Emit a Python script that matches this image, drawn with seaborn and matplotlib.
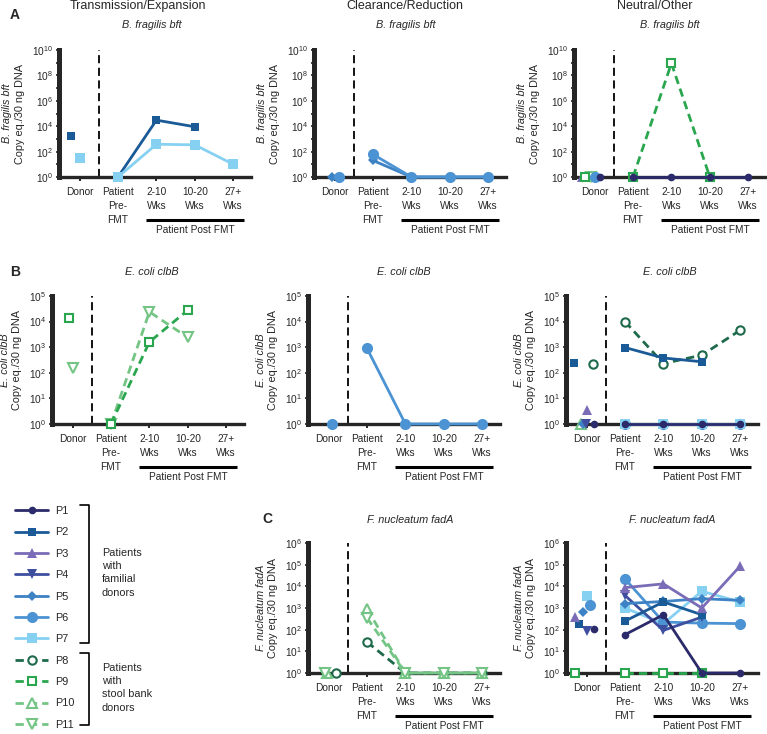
import numpy as np
import seaborn as sns
import matplotlib.pyplot as plt
from matplotlib import transforms
from matplotlib.lines import Line2D
from matplotlib.ticker import FixedLocator, FuncFormatter, NullLocator

sns.set_style("ticks")
plt.rcParams["font.family"] = ["Liberation Sans", "DejaVu Sans"]
plt.rcParams["mathtext.default"] = "regular"

TIMEPOINTS = ["Donor", "Patient\nPre-\nFMT", "2-10\nWks", "10-20\nWks", "27+\nWks"]

# copy eq./30 ng DNA: [donor, pre-FMT, 2-10 wks, 10-20 wks, 27+ wks], None = not measured/shown
BFT_TRANSMISSION = {
    "P2": [1600, 1, 3.0e4, 9.0e3, None],
    "P7": [30, 1, 380, 340, 10],
}
BFT_CLEARANCE = {
    "P5": [1, 20, 1, 1, 1],
    "P6": [1, 60, 1, 1, 1],
}
BFT_NEUTRAL = {
    "P3": [1, None, None, None, None],
    "P11": [1, None, None, None, None],
    "P9": [1, 1, 8.9e8, 1, None],
    "P6": [1, None, None, None, None],
    "P1": [1, 1, 1, 1, 1],
}
CLBB_TRANSMISSION = {
    "P11": [150, 1, 2.4e4, 2.4e3, None],
    "P9": [1.4e4, 1, 1.6e3, 2.8e4, None],
}
CLBB_CLEARANCE = {
    "P6": [1, 900, 1, 1, 1],
}
CLBB_NEUTRAL = {
    "P10": [1, None, None, None, None],
    "P5": [1, None, None, None, None],
    "P4": [1, None, None, None, None],
    "P3": [3.5, None, None, None, None],
    "P6": [None, 1, 1, 1, 1],
    "P7": [None, 1, 1, 1, 1],
    "P8": [220, 1.0e4, 230, 490, 4600],
    "P2": [240, 970, 380, 270, None],
    "P1": [1, 1, 1, 1, 1],
}
FADA_CLEARANCE = {
    "P8": [1, 27, 1, 1, 1],
    "P10": [1, 900, 1, 1, 1],
    "P11": [1, 350, 1, 1, 1],
}
FADA_NEUTRAL = {
    "P9": [1, 1, 1, 1, None],
    "P7": [3600, 1000, 190, 5900, 1900],
    "P6": [1400, 2.2e4, 225, 200, 190],
    "P4": [84, 3800, 93, 380, None],
    "P5": [650, 1600, 2000, 2700, 2250],
    "P2": [190, 250, 1900, 490, None],
    "P3": [380, 8700, 1.3e4, 1000, 8.7e4],
    "P1": [110, 59, 490, 1, 1],
}

# horizontal spread of the donor points inside the Donor column
BFT_TRANSMISSION_DX = {"P2": -0.22, "P7": 0.0}
BFT_CLEARANCE_DX = {"P5": -0.07, "P6": 0.12}
BFT_NEUTRAL_DX = {"P3": -0.33, "P9": -0.24, "P11": -0.1, "P6": 0.02, "P1": 0.15}
CLBB_TRANSMISSION_DX = {"P9": -0.1, "P11": 0.0}
CLBB_CLEARANCE_DX = {"P6": 0.1}
CLBB_NEUTRAL_DX = {"P2": -0.33, "P10": -0.14, "P5": -0.1, "P4": -0.02, "P3": 0.0,
                   "P8": 0.17, "P1": 0.2}
FADA_CLEARANCE_DX = {"P11": -0.1, "P10": -0.05, "P8": 0.2}
FADA_NEUTRAL_DX = {"P9": -0.3, "P3": -0.3, "P2": -0.2, "P5": -0.1, "P4": 0.0,
                   "P7": 0.0, "P6": 0.1, "P1": 0.2}

STYLE = {
    "P1": dict(color="#2b2b6b", marker="o", ms=5.5, hollow=False),
    "P2": dict(color="#1a5a96", marker="s", ms=6.0, hollow=False),
    "P3": dict(color="#7a6cb7", marker="^", ms=6.5, hollow=False),
    "P4": dict(color="#3e4f9f", marker="v", ms=6.5, hollow=False),
    "P5": dict(color="#3d82c4", marker="D", ms=5.0, hollow=False),
    "P6": dict(color="#4b93d3", marker="o", ms=8.0, hollow=False),
    "P7": dict(color="#86d1f2", marker="s", ms=7.0, hollow=False),
    "P8": dict(color="#1e6a4b", marker="o", ms=6.0, hollow=True),
    "P9": dict(color="#2aa64f", marker="s", ms=6.0, hollow=True),
    "P10": dict(color="#74c585", marker="^", ms=6.5, hollow=True),
    "P11": dict(color="#74c585", marker="v", ms=6.5, hollow=True),
}

W, H = 767, 734
fig = plt.figure(figsize=(W / 100, H / 100), dpi=100)

ov = fig.add_axes([0, 0, 1, 1], zorder=-1)
ov.set_xlim(0, W)
ov.set_ylim(H, 0)
ov.axis("off")


def line_kws(pid):
    st = STYLE[pid]
    return dict(
        color=st["color"], marker=st["marker"], markersize=st["ms"],
        markerfacecolor="white" if st["hollow"] else st["color"],
        markeredgecolor=st["color"],
        markeredgewidth=1.5 if st["hollow"] else 0.0,
        linewidth=2.0, linestyle=(0, (3, 1.8)) if st["hollow"] else "-",
    )


def draw_panel(left, top, bottom, values, donor_dx, top_exp, step, gene, yoff):
    ax = fig.add_axes([left / W, 1 - bottom / H, 192 / W, (bottom - top) / H])
    ax.set_yscale("log")
    ax.axvline(0.5, color="k", lw=1.3, ls=(0, (4.5, 2.5)), zorder=1)

    for pid, vals in values.items():
        kws = line_kws(pid)
        if vals[0] is not None:
            sns.lineplot(x=[donor_dx.get(pid, 0.0)], y=[vals[0]], ax=ax,
                         clip_on=False, zorder=3, **kws)
        post = [(i, v) for i, v in enumerate(vals) if i > 0 and v is not None]
        if post:
            xs, ys = zip(*post)
            sns.lineplot(x=list(xs), y=list(ys), ax=ax, clip_on=False,
                         zorder=3, **kws)

    sns.despine(ax=ax)
    ax.spines["left"].set_linewidth(3.6)
    ax.spines["bottom"].set_linewidth(2.4)

    ax.yaxis.set_major_locator(FixedLocator([10.0 ** e for e in range(top_exp + 1)]))
    ax.yaxis.set_minor_locator(NullLocator())
    ax.yaxis.set_major_formatter(FuncFormatter(
        lambda v, p: f"$10^{{{int(round(np.log10(v)))}}}$"
        if int(round(np.log10(v))) % step == 0 else ""))
    ax.tick_params(axis="y", length=2.5, width=1.2, pad=1.5, labelsize=7.3)

    ax.set_xticks(range(len(TIMEPOINTS)))
    ax.set_xticklabels(TIMEPOINTS, linespacing=1.5)
    ax.tick_params(axis="x", length=3, width=1.4, pad=4, labelsize=7.3)

    ax.annotate(gene, xy=(0, 0.5), xycoords="axes fraction", xytext=(yoff[0], 0),
                textcoords="offset points", rotation=90, ha="center", va="center",
                fontsize=7.8, style="italic")
    ax.annotate("Copy eq./30 ng DNA", xy=(0, 0.5), xycoords="axes fraction",
                xytext=(yoff[1], 0), textcoords="offset points", rotation=90,
                ha="center", va="center", fontsize=7.8)

    bar = transforms.offset_copy(ax.get_xaxis_transform(), fig=fig, y=-31, units="points")
    ax.plot([1.72, 4.27], [0, 0], color="k", lw=2.2, transform=bar, clip_on=False,
            solid_capstyle="butt")
    ax.annotate("Patient Post FMT", xy=(3.0, 0), xycoords=ax.get_xaxis_transform(),
                xytext=(0, -38), textcoords="offset points", ha="center",
                va="center", fontsize=7.3)

    ax.set_xlim(-0.55, 4.45)
    ax.set_ylim(1, 10.0 ** top_exp)
    ax.set_xlabel("")
    ax.set_ylabel("")
    return ax


ROW_A = (50, 177)
ROW_B = (296, 424)
ROW_C = (543, 673)
OFF_A = (-37, -27.5)
OFF_BC = (-33.5, -24.5)

draw_panel(58.5, *ROW_A, BFT_TRANSMISSION, BFT_TRANSMISSION_DX, 10, 2, "B. fragilis bft", OFF_A)
draw_panel(313.5, *ROW_A, BFT_CLEARANCE, BFT_CLEARANCE_DX, 10, 2, "B. fragilis bft", OFF_A)
draw_panel(573.5, *ROW_A, BFT_NEUTRAL, BFT_NEUTRAL_DX, 10, 2, "B. fragilis bft", OFF_A)
draw_panel(51.5, *ROW_B, CLBB_TRANSMISSION, CLBB_TRANSMISSION_DX, 5, 1, "E. coli clbB", OFF_BC)
draw_panel(307.5, *ROW_B, CLBB_CLEARANCE, CLBB_CLEARANCE_DX, 5, 1, "E. coli clbB", OFF_BC)
draw_panel(565.5, *ROW_B, CLBB_NEUTRAL, CLBB_NEUTRAL_DX, 5, 1, "E. coli clbB", OFF_BC)
draw_panel(307.5, *ROW_C, FADA_CLEARANCE, FADA_CLEARANCE_DX, 6, 1, "F. nucleatum fadA", OFF_BC)
draw_panel(565.5, *ROW_C, FADA_NEUTRAL, FADA_NEUTRAL_DX, 6, 1, "F. nucleatum fadA", OFF_BC)

# headers, subtitles, panel letters
for x, t in [(138, "Transmission/Expansion"), (405, "Clearance/Reduction"), (655, "Neutral/Other")]:
    ov.text(x, 9, t, ha="center", va="baseline", fontsize=9)
for x, y, t in [(152, 28, "B. fragilis bft"), (406, 28, "B. fragilis bft"), (670, 28, "B. fragilis bft"),
                (152, 275, "E. coli clbB"), (404, 275, "E. coli clbB"), (670, 275, "E. coli clbB"),
                (410, 523, "F. nucleatum fadA"), (672, 523, "F. nucleatum fadA")]:
    ov.text(x, y, t, ha="center", va="baseline", fontsize=7.8, style="italic")
for x, y, t in [(15, 15, "A"), (15, 272, "B"), (267, 519, "C")]:
    ov.text(x, y, t, ha="center", va="center", fontsize=10, fontweight="bold")

# legend
handles = [Line2D([], [], **line_kws(p)) for p in STYLE]
fig.legend(handles, list(STYLE), loc="upper left", bbox_to_anchor=(15 / W, 1 - 506 / H),
           frameon=False, fontsize=7.8, handlelength=3.05, handletextpad=0.65,
           labelspacing=1.05, borderpad=0, borderaxespad=0)
ov.plot([80, 89, 89, 80], [505, 505, 643, 643], color="k", lw=1.2)
ov.plot([80, 89, 89, 80], [653, 653, 725, 725], color="k", lw=1.2)
ov.text(102, 548, "Patients\nwith\nfamilial\ndonors", va="top", fontsize=7.8, linespacing=1.4)
ov.text(102, 663, "Patients\nwith\nstool bank\ndonors", va="top", fontsize=7.8, linespacing=1.4)

fig.savefig("out.png", dpi=100)
